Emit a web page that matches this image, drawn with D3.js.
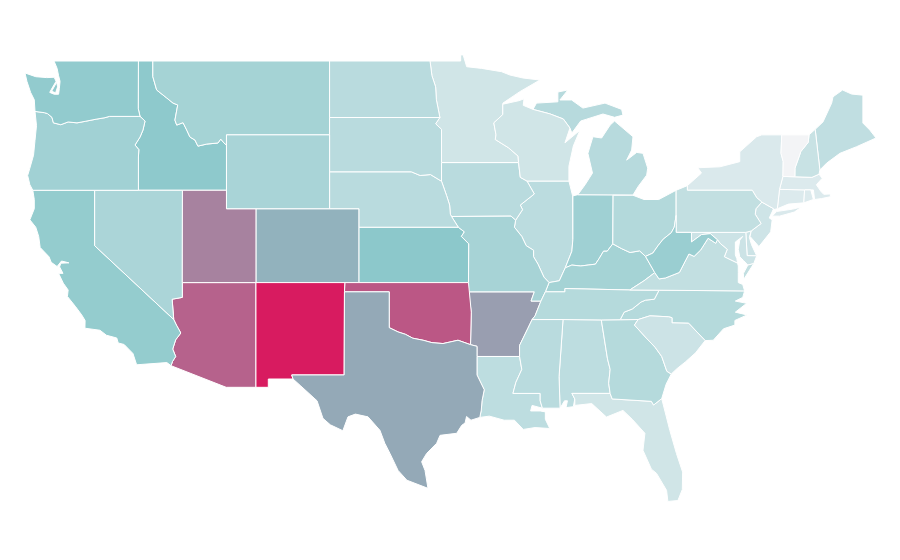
<!DOCTYPE html>
<html>
<head>
<meta charset="utf-8">
<script src="https://cdn.jsdelivr.net/npm/d3@7"></script>
<style>
  body { margin: 0; background: #fff; }
  path.state { stroke: #fff; stroke-width: 1px; stroke-linejoin: round; }
</style>
</head>
<body>
<div id="chart-container"></div>
<script>
const stateNames = ["Alabama","Arizona","Arkansas","California","Colorado","Connecticut","Delaware","District of Columbia","Florida","Georgia","Idaho","Illinois","Indiana","Iowa","Kansas","Kentucky","Louisiana","Maine","Maryland","Massachusetts","Michigan","Minnesota","Mississippi","Missouri","Montana","Nebraska","Nevada","New Hampshire","New Jersey","New Mexico","New York","North Carolina","North Dakota","Ohio","Oklahoma","Oregon","Pennsylvania","Rhode Island","South Carolina","South Dakota","Tennessee","Texas","Utah","Vermont","Virginia","Washington","West Virginia","Wisconsin","Wyoming"];
const stateValues = [26,80,63,46,57,11,19,19,17,30,49,27,41,28,50,38,26,25,19,11,29,17,28,37,38,28,35,21,18,100,12,30,28,31,83,40,24,11,19,28,30,60,71,0,24,47,43,17,36];

const colorStops = [0, 50, 60, 100];
const colorRange = ["#f3f4f6", "#8cc8cb", "#94a9b7", "#d81b60"];

// shared borders, lon/lat
const columbia = [[-124.05,46.27],[-123.4,46.2],[-123.2,46.15],[-122.9,45.95],[-122.8,45.65],[-122.3,45.55],[-121.8,45.7],[-121.2,45.65],[-120.6,45.74],[-119.9,45.85],[-119.3,45.93],[-119,46],[-117.04,46]];
const snake = [[-116.92,46],[-116.58,45.75],[-116.72,45.26],[-116.92,44.88],[-117.26,44.45],[-117,44.2],[-117.03,43.8],[-117.03,42]];
const bitterroot = [[-116.05,48.15],[-115.79,47.43],[-115.11,47],[-114.68,46.72],[-114.36,46.62],[-114.55,45.8],[-114.43,45.53],[-114,45.66],[-113.75,45.26],[-113.53,44.88],[-113.19,44.72],[-112.99,44.39],[-112.4,44.5],[-111.63,44.56],[-111.44,44.77],[-111.15,44.5],[-111.05,44.48]];
const colorado = [[-114.72,32.72],[-114.5,33],[-114.7,33.4],[-114.5,33.9],[-114.15,34.27],[-114.45,34.7],[-114.63,35]];
const redRiver = [[-100,34.56],[-99.4,34.33],[-98.9,34.2],[-98.4,33.99],[-97.7,33.88],[-97.1,33.75],[-96.35,33.7],[-95.33,33.88],[-94.48,33.64]];
const sabine = [[-94.04,32],[-93.55,31.2],[-93.7,30.6],[-93.75,30.1],[-93.85,29.7]];
const redNorth = [[-97.23,49],[-97.1,48.2],[-96.85,47.6],[-96.8,46.9],[-96.56,45.94]];
const mnSd = [[-96.56,45.94],[-96.85,45.6],[-96.45,45.3],[-96.45,43.5]];
const neSd = [[-104.05,43],[-98.5,43],[-97.9,42.8],[-97.2,42.85],[-96.45,42.49]];
const missouriIa = [[-96.45,42.49],[-96.1,41.7],[-95.9,41.2],[-95.85,40.7],[-95.77,40.58]];
const neMoKs = [[-95.77,40.58],[-95.31,40]];
const ksMo = [[-95.31,40],[-94.9,39.75],[-95.1,39.5],[-94.6,39.1],[-94.62,37]];
const stCroix = [[-92.29,46.66],[-92.29,46.1],[-92.9,45.65],[-92.75,45],[-92.8,44.75],[-91.9,44.3],[-91.25,43.85],[-91.22,43.5]];
const iaWi = [[-91.22,43.5],[-91.1,42.7],[-90.65,42.5]];
const iaIl = [[-90.65,42.5],[-90.15,41.8],[-91.1,41.2],[-90.95,40.95],[-91.42,40.38]];
const miIl = [[-91.42,40.38],[-91.5,40],[-91,39.5],[-90.7,39],[-90.2,38.75],[-90.2,38.4],[-89.9,38],[-89.5,37.3],[-89.15,37]];
const ohioWest = [[-88.05,37.8],[-88.45,37.1],[-89.15,37]];
const ohioIn = [[-84.82,39.1],[-85.2,38.7],[-85.45,38.7],[-85.75,38.3],[-86,38],[-86.5,37.95],[-87,37.9],[-87.6,37.95],[-88.05,37.8]];
const ohioOh = [[-82.6,38.42],[-83,38.72],[-83.65,38.63],[-84.25,38.85],[-84.82,39.1]];
const ohioWv = [[-80.52,40.64],[-80.65,40],[-80.85,39.7],[-81.4,39.35],[-81.75,39],[-82.1,38.6],[-82.6,38.42]];
const arMs = [[-90.3,35],[-90.6,34.5],[-91.15,33.6],[-91.15,33]];
const laMs = [[-91.15,33],[-91,32.3],[-91.4,31.6],[-91.6,31]];
const arTn = [[-89.7,36],[-90.1,35.2],[-90.3,35]];
const tnNc = [[-81.68,36.59],[-82,36.1],[-82.6,36.05],[-82.9,35.95],[-83.5,35.57],[-84.05,35.4],[-84.32,34.99]];
const vaWv = [[-77.72,39.32],[-77.83,39.13],[-78.35,39.4],[-78.85,38.77],[-79.3,38.42],[-79.65,38.55],[-80.3,37.55],[-81.25,37.25],[-81.68,37.2],[-81.97,37.54]];
const vaKy = [[-81.97,37.54],[-82.7,37.1],[-83.67,36.6]];
const mdVa = [[-75.95,38],[-76.35,38.05],[-77,38.3],[-77.25,38.4],[-77.05,38.8],[-77.5,39.1],[-77.72,39.32]];
const gaSc = [[-83.1,35],[-83.35,34.7],[-82.55,34],[-81.95,33.5],[-81.5,33],[-81.15,32.2],[-80.85,32.05]];
const alGa = [[-85.6,34.98],[-85.18,32.87],[-85,32.3],[-85.1,31.55],[-85,31]];
const flGa = [[-85,31],[-84.86,30.7],[-82.2,30.57],[-82.05,30.37],[-81.5,30.72]];
const scNc = [[-83.1,35],[-82.3,35.2],[-81.04,35.15],[-80.8,35.1],[-80.8,34.82],[-79.67,34.8],[-78.55,33.86]];
const paNy = [[-79.76,42],[-75.35,42],[-75.05,41.6],[-74.7,41.36]];
const paNj = [[-74.7,41.36],[-75.1,41],[-75.15,40.7],[-74.75,40.2],[-75.42,39.8]];
const vtNh = [[-71.5,45],[-71.55,44.6],[-72.05,44.1],[-72.45,43.2],[-72.46,42.73]];
const nyNe = [[-73.35,45],[-73.4,44],[-73.25,43.55],[-73.27,42.75]];
const lakeMi = [[-87.73,45.37],[-88.07,44.57],[-87.05,45.25],[-87.5,44.4],[-87.8,43.3],[-87.8,42.5]];
const wiUp = [[-90.24,46.38],[-89.1,46.14],[-88.18,45.86],[-87.73,45.37]];

const rev = a => a.slice().reverse();

const stateShapes = {
  "Washington": [
    [[-122.76,49],[-117.03,49],[-117.04,46.42],[-116.92,46],...rev(columbia),[-124.1,46.9],[-124.35,47.3],[-124.6,47.9],[-124.73,48.35],[-124,48.15],[-123.25,48.1],[-122.75,48.12],[-122.62,47.9],[-122.95,47.45],[-123.05,47.3],[-122.75,47.2],[-122.45,47.2],[-122.4,47.5],[-122.35,47.9],[-122.45,48.2],[-122.55,48.6]],
    [[-122.92,47.36],[-122.65,47.28],[-122.52,47.6],[-122.58,47.85]]
  ],
  "Oregon": [[...columbia,...snake,[-124.2,42],[-124.4,42.3],[-124.55,42.8],[-124.4,43.2],[-124.15,43.9],[-124.05,44.7],[-123.95,45.5]]],
  "California": [[[-124.2,42],[-120,42],[-120,39],[-114.63,35],...rev(colorado),[-114.81,32.5],[-115.1,32.67],[-117.15,32.55],[-117.4,33.16],[-118,33.65],[-118.4,33.73],[-118.5,34],[-119.2,34.15],[-119.64,34.42],[-120.66,34.53],[-120.65,34.95],[-120.88,35.25],[-121.3,35.7],[-121.85,36.25],[-121.8,36.6],[-122.13,36.97],[-122.45,37.5],[-122.15,37.5],[-122.38,37.85],[-122.3,38.05],[-121.75,38.07],[-122.25,38.17],[-122.55,37.87],[-122.95,38.1],[-123.1,38.4],[-123.7,38.9],[-123.8,39.5],[-124,40],[-124.4,40.4],[-124.1,41],[-124.1,41.5]]],
  "Nevada": [[[-120,42],[-114.04,42],[-114.05,36.2],[-114.74,36.1],[-114.63,35],[-120,39]]],
  "Idaho": [[[-117.03,49],[-116.05,49],...bitterroot,[-111.05,42],[-117.03,42],...rev(snake),[-117.04,46.42]]],
  "Montana": [[[-116.05,49],[-104.05,49],[-104.05,45],[-111.05,45],...rev(bitterroot)]],
  "Wyoming": [[[-111.05,45],[-104.05,45],[-104.05,41],[-111.05,41]]],
  "Utah": [[[-114.04,42],[-111.05,42],[-111.05,41],[-109.05,41],[-109.05,37],[-114.05,37]]],
  "Colorado": [[[-109.05,41],[-102.05,41],[-102.05,37],[-109.05,37]]],
  "Arizona": [[[-114.05,37],[-109.05,37],[-109.05,31.33],[-111.07,31.33],[-114.81,32.5],...colorado,[-114.74,36.1],[-114.05,36.2]]],
  "New Mexico": [[[-109.05,37],[-103,37],[-103.04,36.5],[-103.06,32],[-106.62,32],[-106.53,31.78],[-108.21,31.78],[-108.21,31.33],[-109.05,31.33]]],
  "North Dakota": [[[-104.05,49],...redNorth,[-104.05,45.94]]],
  "South Dakota": [[[-104.05,45.94],...mnSd,[-96.45,42.49],...rev(neSd)]],
  "Nebraska": [[...neSd,...missouriIa,...neMoKs,[-102.05,40],[-102.05,41],[-104.05,41]]],
  "Kansas": [[[-102.05,40],...ksMo,[-102.05,37]]],
  "Oklahoma": [[[-103,37],[-94.62,37],[-94.43,35.4],...rev(redRiver),[-100,36.5],[-103.04,36.5]]],
  "Texas": [[[-103.04,36.5],[-100,36.5],...redRiver,[-94.04,33.55],[-94.04,33],...sabine,[-94.45,29.55],[-94.75,29.75],[-94.85,29.4],[-95.08,29.27],[-95.42,28.84],[-96.55,28.73],[-96.78,28.3],[-97.46,27.75],[-97.8,27.3],[-97.57,26.83],[-97.37,25.86],[-98.8,26.3],[-99.4,26.83],[-99.95,27.75],[-100.3,28.3],[-100.63,29],[-101.44,29.73],[-102.3,29.88],[-102.8,29.73],[-103.15,28.98],[-104,29.3],[-104.5,29.65],[-104.9,30.6],[-106,31.4],[-106.53,31.78],[-106.62,32],[-103.06,32]]],
  "Minnesota": [[[-97.23,49],[-95.15,49],[-95.15,49.33],[-94.98,49.33],[-94.74,48.69],[-93.73,48.6],[-92.37,48.42],[-91.8,48.24],[-90.92,48.08],[-89.77,47.97],[-91.13,47.34],[-92.28,46.72],...stCroix,[-96.45,43.5],...rev(mnSd),...rev(redNorth).slice(1)]],
  "Iowa": [[[-96.45,43.5],...iaWi,...iaIl,[-91.73,40.6],[-95.77,40.58],...rev(missouriIa)]],
  "Missouri": [[[-95.77,40.58],[-91.73,40.6],...miIl,[-89.4,36.5],[-89.7,36],[-90.37,36],[-90.15,36.5],[-94.62,36.5],...rev(ksMo),...rev(neMoKs)]],
  "Arkansas": [[[-94.62,36.5],[-90.15,36.5],[-90.37,36],...arTn,...arMs,[-94.04,33],[-94.04,33.55],[-94.48,33.64],[-94.43,35.4]]],
  "Louisiana": [[[-94.04,33],...laMs,[-89.75,31],[-89.75,30.6],[-89.6,30.2],[-90.3,30.35],[-90.4,30.05],[-89.75,30.05],[-89.4,30],[-89.4,29.6],[-89.1,29.1],[-90.1,29.15],[-90.9,29.05],[-91.5,29.55],[-92.2,29.55],[-93.2,29.77],...rev(sabine)]],
  "Wisconsin": [[[-92.29,46.66],[-91.2,46.85],[-90.85,46.95],[-90.9,46.6],...wiUp,...lakeMi,[-90.65,42.5],...rev(iaWi),...rev(stCroix)]],
  "Illinois": [[[-90.65,42.5],[-87.8,42.5],[-87.55,41.7],[-87.53,39.35],[-87.6,38.7],...ohioWest,...rev(miIl),...rev(iaIl)]],
  "Indiana": [[[-87.53,41.7],[-87.2,41.76],[-84.8,41.76],...ohioIn,[-87.6,38.7],[-87.53,39.35]]],
  "Ohio": [[[-84.8,41.73],[-83.45,41.73],[-82.7,41.5],[-81.7,41.5],[-80.52,42],...ohioWv,...ohioOh]],
  "Michigan": [
    [[-87.2,41.76],[-83.45,41.74],[-83.1,42.2],[-82.52,42.82],[-82.45,43.2],[-82.77,44],[-83.2,44.05],[-83.88,43.63],[-83.54,44.18],[-83.45,44.9],[-84.7,45.75],[-85,45.53],[-85.58,44.83],[-86.17,44.9],[-86.51,44],[-86.2,42.93],[-86.7,42.3]],
    [[-90.24,46.38],[-90,46.72],[-88.55,46.79],[-88.55,47.32],[-87.87,47.43],[-88.41,46.89],[-87.62,46.89],[-86.85,46.45],[-85.35,46.72],[-84.22,46.38],[-84.13,46.07],[-84.7,45.95],[-85.49,46.13],[-86.6,45.85],[-87,45.75],[-87.6,45.1],[-87.73,45.37],[-88.18,45.86],[-89.1,46.14]]
  ],
  "Kentucky": [[[-89.4,36.5],[-89.15,37],...rev(ohioWest),...rev(ohioIn),...rev(ohioOh),...vaKy,[-88.07,36.68],[-88.07,36.5]]],
  "Tennessee": [[[-90.3,35],...rev(arTn),[-89.4,36.5],[-88.07,36.5],[-88.07,36.68],[-83.67,36.6],...tnNc,[-85.6,34.98],[-88.2,35]]],
  "Mississippi": [[...arMs,...laMs,[-89.75,31],[-89.75,30.6],[-89.6,30.2],[-88.4,30.2],[-88.47,31.9],[-88.2,35]]],
  "Alabama": [[[-88.2,35],...alGa,[-87.6,31],[-87.4,30.7],[-87.5,30.28],[-88,30.23],[-87.9,30.6],[-88.1,30.6],[-88.4,30.2],[-88.47,31.9]]],
  "Georgia": [[[-85.6,34.98],[-84.32,34.99],...gaSc,[-81.2,31.5],...rev(flGa),...rev(alGa)]],
  "Florida": [[[-87.6,31],...flGa,[-80.95,29],[-80.5,27.75],[-80.08,26.74],[-80.1,25.8],[-80.4,25.2],[-81.08,25.15],[-81.17,25.75],[-81.85,26.67],[-82.2,26.9],[-82.77,27.92],[-82.64,28.84],[-83.5,29.6],[-84.13,30.08],[-85.25,29.72],[-86.25,30.45],[-87.4,30.35],[-87.4,30.7]]],
  "South Carolina": [[...scNc,[-79.2,33.2],[-79.9,32.7],[-80.45,32.35],...rev(gaSc)]],
  "North Carolina": [[[-84.32,34.99],...rev(tnNc),[-75.87,36.55],[-76,36.2],[-76.5,36],[-75.73,35.88],[-76.5,35.4],[-75.7,35.25],[-76.53,34.95],[-76.53,34.7],[-77.3,34.5],[-78,33.88],...rev(scNc)]],
  "Virginia": [
    [[-83.67,36.6],[-75.87,36.55],[-76,36.9],[-76.3,37],[-76.3,37.55],[-76.3,37.9],...mdVa.slice(1),...vaWv,...vaKy.slice(1)],
    [[-75.65,37.95],[-75.25,38.03],[-75.95,37.15],[-75.95,37.5]]
  ],
  "West Virginia": [[...ohioWv,...rev(vaWv),[-78.2,39.65],[-78.8,39.6],[-79.48,39.2],[-79.48,39.72],[-80.52,39.72]]],
  "Maryland": [[[-79.48,39.72],[-75.79,39.72],[-75.7,38.46],[-75.05,38.45],[-75.25,38.03],[-75.65,37.95],[-75.95,38.2],[-76.2,38.4],[-76.3,38.8],[-76.2,39.3],[-76,39.5],[-76.5,39.2],[-76.5,38.5],[-76.4,38.3],[-76.35,38.05],...mdVa.slice(2),[-78.2,39.65],[-78.8,39.6],[-79.48,39.2]]],
  "Delaware": [[[-75.79,39.72],[-75.42,39.8],[-75.55,39.45],[-75.4,39.05],[-75.05,38.45],[-75.7,38.46]]],
  "District of Columbia": [[[-77.12,38.93],[-77.04,39],[-76.91,38.89],[-77.04,38.79]]],
  "Pennsylvania": [[[-80.52,42],[-79.76,42.25],...paNy,...paNj,[-75.79,39.72],[-80.52,39.72]]],
  "New Jersey": [[...rev(paNj),[-73.9,41],[-74.2,40.5],[-74,40.4],[-74.1,39.75],[-74.9,38.95],[-75.5,39.5]]],
  "New York": [
    [[-79.76,42.25],[-78.8,42.93],[-79.05,43.22],[-77.55,43.27],[-76.2,43.55],[-76.2,44.08],[-75.05,44.9],[-74.7,45],...nyNe,[-73.5,42.05],[-73.65,41],[-73.9,40.95],[-74,40.7],[-73.9,41],[-74.7,41.36],...rev(paNy)],
    [[-74,40.6],[-73.7,40.85],[-72.6,40.98],[-72,41.1],[-72.5,40.82],[-73.5,40.6]]
  ],
  "Vermont": [[...nyNe,...rev(vtNh)]],
  "New Hampshire": [[[-71.5,45],[-71.08,45.3],[-70.76,43.1],[-70.82,42.87],[-71.3,42.7],...rev(vtNh)]],
  "Maine": [[[-71.08,45.3],[-70.55,45.7],[-69.96,46.72],[-69.87,47.06],[-69.22,47.43],[-68.61,47.21],[-67.84,47.15],[-67.84,45.64],[-67.37,45.26],[-66.95,44.83],[-68.27,44.36],[-69.4,44],[-70.3,43.47],[-70.76,43.1]]],
  "Massachusetts": [[[-73.5,42.05],[-73.27,42.75],[-71.3,42.7],[-70.82,42.87],[-70.6,42.65],[-71,42.3],[-70.7,41.95],[-70.5,41.78],[-70.05,41.8],[-70.05,41.65],[-70.65,41.55],[-71.12,41.5],[-71.2,42.02],[-71.8,42.02]]],
  "Connecticut": [[[-73.5,42.05],[-71.8,42.02],[-71.85,41.32],[-72.9,41.25],[-73.65,41]]],
  "Rhode Island": [[[-71.8,42.02],[-71.38,42.02],[-71.2,41.5],[-71.85,41.32]]]
};

const width = 900, height = 560;

const lonScale = d3.scaleLinear().domain([-124.73, -66.95]).range([25, 876]);
const latScale = d3.scaleLinear().domain([49, 25.12]).range([61, 502]);
const colorScale = d3.scaleLinear().domain(colorStops).range(colorRange);

const projection = d3.geoTransform({
  point(lon, lat) { this.stream.point(lonScale(lon), latScale(lat)); }
});
const path = d3.geoPath(projection);

const features = stateNames.map((name, i) => ({
  type: "Feature",
  properties: { name, value: stateValues[i] },
  geometry: {
    type: "MultiPolygon",
    coordinates: stateShapes[name].map(ring => [[...ring, ring[0]]])
  }
}));

const svg = d3.select("#chart-container").append("svg")
  .attr("width", width)
  .attr("height", height);

svg.selectAll("path.state")
  .data(features)
  .enter().append("path")
  .attr("class", "state")
  .attr("d", path)
  .attr("fill", d => colorScale(d.properties.value))
  .append("title").text(d => d.properties.name);
</script>
</body>
</html>
